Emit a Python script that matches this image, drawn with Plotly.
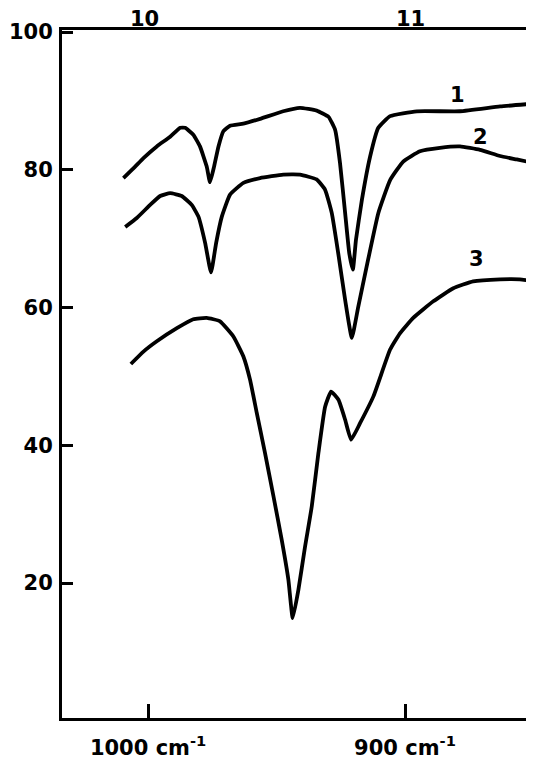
import plotly.graph_objects as go

# Curve 1 (wavenumber cm-1, transmittance %)
x1 = [1009.6, 1005.7, 1001.8, 996.6, 991.4, 987.5, 985.6, 982.4, 979.8, 977.2, 975.9, 974.3,
      972.6, 970.7, 968.1, 962.9, 956.4, 947.4, 940.9, 934.4, 929.8, 927.2, 925.3, 923.3,
      921.7, 920.3, 919.1, 916.8, 913.6, 910.4, 905.8, 895.4, 878.6, 863.0, 850.1]
y1 = [78.8, 80.2, 81.7, 83.4, 84.8, 86.1, 86.1, 85.1, 83.4, 80.5, 78.2, 80.5,
      83.4, 85.6, 86.4, 86.7, 87.4, 88.5, 89.0, 88.6, 87.7, 85.8, 81.0, 73.7,
      67.9, 65.5, 69.8, 75.6, 81.9, 86.1, 87.8, 88.5, 88.5, 89.2, 89.6]
# Curve 2
x2 = [1008.9, 1004.4, 999.2, 995.3, 991.4, 986.9, 983.0, 980.4, 977.8, 975.5, 973.5, 971.3,
      968.1, 962.9, 956.4, 947.4, 940.9, 934.4, 931.1, 928.5, 926.0, 923.3, 920.7, 918.2,
      914.9, 910.4, 905.8, 900.7, 894.2, 886.4, 878.6, 870.8, 863.0, 856.5, 850.1]
y2 = [71.7, 73.0, 74.9, 76.2, 76.6, 76.2, 74.9, 73.2, 69.4, 65.1, 69.4, 73.2,
      76.4, 78.1, 78.8, 79.3, 79.3, 78.6, 77.1, 73.7, 67.9, 61.1, 55.6, 60.1,
      66.0, 73.7, 78.5, 81.2, 82.7, 83.2, 83.4, 82.9, 82.0, 81.5, 81.0]
# Curve 3
x3 = [1006.7, 1001.8, 996.6, 988.8, 982.4, 977.2, 972.0, 966.8, 962.9, 960.3, 957.7, 954.5,
      951.2, 948.0, 945.4, 943.7, 941.5, 938.9, 936.3, 933.7, 931.1, 928.8, 925.9, 923.3,
      921.0, 917.5, 912.3, 905.8, 901.9, 896.8, 889.0, 881.2, 873.5, 863.0, 855.3, 850.1]
y3 = [51.8, 53.6, 55.1, 57.0, 58.3, 58.5, 58.0, 55.8, 52.9, 49.5, 44.7, 38.9,
      32.6, 26.3, 20.5, 14.9, 19.0, 25.3, 31.1, 38.9, 45.6, 47.8, 46.6, 43.7,
      40.8, 43.2, 47.1, 53.9, 56.3, 58.5, 60.9, 62.8, 63.8, 64.1, 64.1, 63.8]

curve_labels = ["1", "2", "3"]
label_x = [879.4, 870.8, 872.0]
label_y = [90.8, 84.8, 67.0]

y_ticks = [100, 80, 60, 40, 20]
x_ticks = [1000, 900]
x_ticktext = ["1000 cm<sup>-1</sup>", "900 cm<sup>-1</sup>"]
top_ticks = [1001.2, 898.0]          # wavelength scale (µm) positions
top_ticktext = ["10", "11"]

FONT = dict(family="DejaVu Sans, sans-serif", size=21, color="black", weight="bold")

fig = go.Figure()
for xs, ys in [(x1, y1), (x2, y2), (x3, y3)]:
    fig.add_trace(go.Scatter(x=xs, y=ys, mode="lines",
                             line=dict(color="black", width=3.8, shape="spline", smoothing=0.4),
                             showlegend=False, hoverinfo="skip"))

# invisible trace on the top axis
fig.add_trace(go.Scatter(x=[top_ticks[0]], y=[50], xaxis="x2", mode="markers",
                         marker=dict(opacity=0), showlegend=False, hoverinfo="skip"))

for t, lx, ly in zip(curve_labels, label_x, label_y):
    fig.add_annotation(x=lx, y=ly, text=t, showarrow=False, font=FONT)

# top wavelength labels sitting on the top frame line
for t, tx in zip(top_ticktext, top_ticks):
    fig.add_annotation(x=tx, xref="x", y=1, yref="paper", yanchor="bottom", text=t,
                       showarrow=False, font=FONT, yshift=-3)

xr = [1033.5, 849.8]
fig.update_layout(
    width=526, height=751,
    margin=dict(l=54, r=0, t=22, b=41, autoexpand=False),
    paper_bgcolor="white", plot_bgcolor="white",
    font=FONT,
    xaxis=dict(range=xr, tickvals=x_ticks, ticktext=x_ticktext, ticks="inside",
               ticklen=14, tickwidth=2.5, tickcolor="black", showline=True, linewidth=3,
               linecolor="black", showgrid=False, zeroline=False, ticklabelstandoff=9,
               tickfont=FONT),
    xaxis2=dict(range=xr, overlaying="x", side="top", showticklabels=False,
                ticks="", showline=True, linewidth=2.5,
                linecolor="black", showgrid=False, zeroline=False),
    yaxis=dict(range=[0.4, 100.3], tickvals=y_ticks, ticks="inside", ticklen=11,
               tickwidth=2.5, tickcolor="black", showline=True, linewidth=3,
               linecolor="black", showgrid=False, zeroline=False, ticklabelstandoff=2,
               tickfont=FONT),
)

fig.write_html("out.html")
